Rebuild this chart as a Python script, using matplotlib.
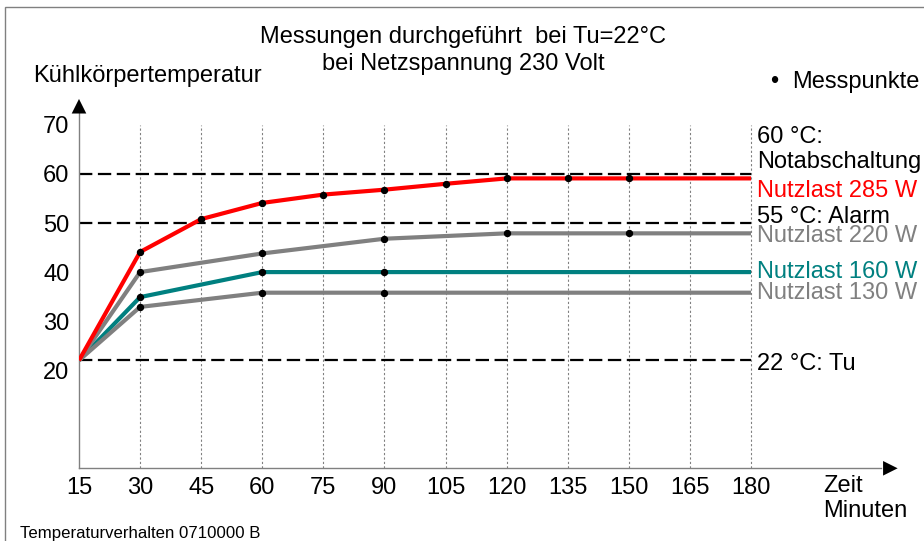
import matplotlib.pyplot as plt
from matplotlib.patches import Rectangle

plt.rcParams['font.family'] = ['Liberation Sans', 'DejaVu Sans']

# Data (minutes, °C)
t_285 = [15, 30, 45, 60, 75, 90, 105, 120, 135, 150, 180]
v_285 = [22, 44.1, 50.8, 54.1, 55.8, 56.8, 58.0, 59.1, 59.1, 59.1, 59.1]
t_220 = [15, 30, 60, 90, 120, 150, 180]
v_220 = [22, 40.0, 43.8, 46.8, 47.9, 47.9, 47.9]
t_160 = [15, 30, 60, 90, 180]
v_160 = [22, 34.9, 40.0, 40.0, 40.0]
t_130 = [15, 30, 60, 90, 180]
v_130 = [22, 32.9, 35.8, 35.8, 35.8]

limits = [60, 50, 22]
grid_x = [30, 45, 60, 75, 90, 105, 120, 135, 150, 165, 180]
xticks = [15, 30, 45, 60, 75, 90, 105, 120, 135, 150, 165, 180]
yticks = [20, 30, 40, 50, 60, 70]

W, H = 924, 541
fig = plt.figure(figsize=(W / 100, H / 100), dpi=100)


def px(x, y):
    return x / W, 1 - y / H


# frame around the picture (top and left edges visible)
fig.patches.append(Rectangle(px(5, 600), 1.0, (600 - 7) / H, transform=fig.transFigure,
                             fill=False, edgecolor='#808080', lw=1.0))

ax = fig.add_axes([79 / W, (H - 468.3) / H, (905.8 - 79) / W, 372.8 / H])
ax.set_xlim(15, 218)
ax.set_ylim(0, 76)
for s in ax.spines.values():
    s.set_visible(False)
ax.tick_params(length=0, labelsize=17)
ax.set_xticks(xticks)
ax.set_yticks(yticks)
ax.tick_params(axis='y', pad=7)
ax.tick_params(axis='x', pad=6)

# dotted vertical grid
ax.vlines(grid_x, 0, 70, colors='#808080', linestyles=(0, (2, 2)), lw=0.8, zorder=1)

# limit lines
ax.hlines(limits, 15, 180, colors='black', linestyles=(0, (6, 2.5)), lw=1.6, zorder=2)

# axes with arrows
ax.plot([15, 15], [0, 73], color='#808080', lw=1.0, zorder=2, clip_on=False)
ax.plot([15, 212], [0, 0], color='#808080', lw=1.0, zorder=2, clip_on=False)
arrow = dict(arrowstyle='-|>,head_length=0.7,head_width=0.35',
             color='black', lw=0, shrinkA=0, shrinkB=0, mutation_scale=15)
ax.annotate('', xy=(15, 75.3), xytext=(15, 72), annotation_clip=False, arrowprops=arrow)
ax.annotate('', xy=(216, 0), xytext=(212, 0), annotation_clip=False, arrowprops=arrow)

# curves
series = [
    (t_160, v_160, '#008080', 3),
    (t_130, v_130, '#808080', 4),
    (t_220, v_220, '#808080', 4),
    (t_285, v_285, '#ff0000', 5),
]
for t, v, c, z in series:
    ax.plot(t, v, color=c, lw=3.0, zorder=z, solid_capstyle='butt')
    ax.plot(t[1:-1], v[1:-1], 'o', color='black', ms=4.3, zorder=6)

# labels on the right
fs = 17
fig.text(*px(757, 143), '60 °C:', fontsize=fs, va='baseline')
fig.text(*px(757, 168), 'Notabschaltung', fontsize=fs, va='baseline')
fig.text(*px(757, 197), 'Nutzlast 285 W', fontsize=fs, va='baseline', color='#ff0000')
fig.text(*px(757, 223), '55 °C: Alarm', fontsize=fs, va='baseline')
fig.text(*px(757, 242), 'Nutzlast 220 W', fontsize=fs, va='baseline', color='#808080')
fig.text(*px(757, 278), 'Nutzlast 160 W', fontsize=fs, va='baseline', color='#008080')
fig.text(*px(757, 299), 'Nutzlast 130 W', fontsize=fs, va='baseline', color='#808080')
fig.text(*px(757, 370), '22 °C: Tu', fontsize=fs, va='baseline')

# titles and axis labels
fig.text(*px(463, 43), 'Messungen durchgeführt  bei Tu=22°C', fontsize=fs, ha='center', va='baseline')
fig.text(*px(463, 70), 'bei Netzspannung 230 Volt', fontsize=fs, ha='center', va='baseline')
fig.text(*px(33, 82), 'Kühlkörpertemperatur', fontsize=fs, va='baseline')
fig.text(*px(770, 88), '•', fontsize=fs, va='baseline')
fig.text(*px(792, 88), 'Messpunkte', fontsize=fs, va='baseline')
fig.text(*px(823, 492), 'Zeit', fontsize=fs, va='baseline')
fig.text(*px(823, 517), 'Minuten', fontsize=fs, va='baseline')
fig.text(*px(20, 538), 'Temperaturverhalten 0710000 B', fontsize=12.1, va='baseline')

fig.savefig('out.png', dpi=100)
